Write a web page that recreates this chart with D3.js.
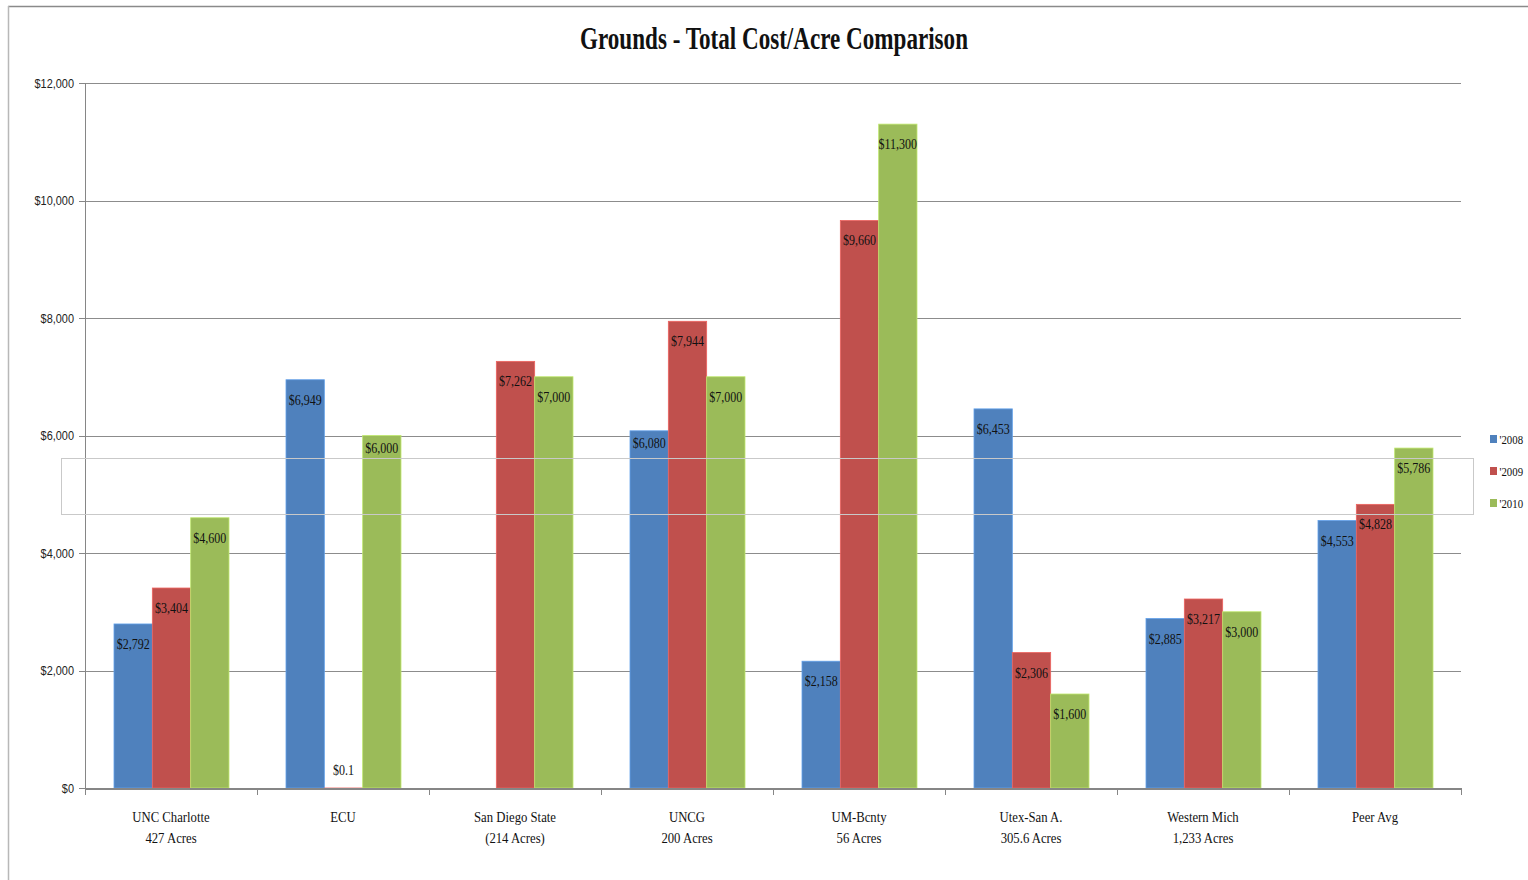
<!DOCTYPE html>
<meta charset="utf-8">
<style>
  html, body { margin: 0; padding: 0; background: #fff; overflow: hidden; }
  .serif { font-family: "Liberation Serif", "DejaVu Serif", serif; fill: #111; }
  .axis text { font-family: "Liberation Sans", Arial, sans-serif; font-size: 13px; fill: #222; }
  .axis path, .axis line { stroke: #868686; fill: none; shape-rendering: crispEdges; }
  .grid line { stroke: #8c8c8c; shape-rendering: crispEdges; }
</style>
<svg width="1528" height="880"></svg>
<script src="https://d3js.org/d3.v7.min.js"></script>
<script>

var categories = ["UNC Charlotte|427 Acres", "ECU", "San Diego State|(214 Acres)", "UNCG|200 Acres",
                  "UM-Bcnty|56 Acres", "Utex-San A.|305.6 Acres", "Western Mich|1,233 Acres", "Peer Avg"];
var seriesNames = ["'2008", "'2009", "'2010"];
var v2008 = [2792, 6949, null, 6080, 2158, 6453, 2885, 4553];
var v2009 = [3404, 0.1, 7262, 7944, 9660, 2306, 3217, 4828];
var v2010 = [4600, 6000, 7000, 7000, 11300, 1600, 3000, 5786];
var labels2008 = ["$2,792", "$6,949", "", "$6,080", "$2,158", "$6,453", "$2,885", "$4,553"];
var labels2009 = ["$3,404", "$0.1", "$7,262", "$7,944", "$9,660", "$2,306", "$3,217", "$4,828"];
var labels2010 = ["$4,600", "$6,000", "$7,000", "$7,000", "$11,300", "$1,600", "$3,000", "$5,786"];
var yTicks = [0, 2000, 4000, 6000, 8000, 10000, 12000];
var colors = ["#4F81BD", "#C0504D", "#9BBB59"];

var svg = d3.select("svg");

// squeeze text horizontally to mimic condensed fonts
function squeeze(sel, k) {
  sel.each(function() {
    var w = this.getComputedTextLength();
    if (w > 0) d3.select(this).attr("textLength", w * k).attr("lengthAdjust", "spacingAndGlyphs");
  });
}

// outer frame
svg.append("line").attr("x1", 8).attr("x2", 1528).attr("y1", 6.5).attr("y2", 6.5)
  .attr("stroke", "#8a8a8a").attr("stroke-width", 1.5);
svg.append("line").attr("x1", 8.5).attr("x2", 8.5).attr("y1", 6).attr("y2", 880)
  .attr("stroke", "#b8b8b8").attr("stroke-width", 1.5);

var plotL = 85, plotR = 1461, plotT = 83, plotB = 788;
var frameY = 458.5;

var x = d3.scaleBand().domain(categories).range([plotL, plotR]).paddingInner(0).paddingOuter(0);
var y = d3.scaleLinear().domain([0, 12000]).range([plotB, plotT]);
var inner = d3.scaleBand().domain([0, 1, 2]).range([29, x.bandwidth() - 28]);

// gridlines
svg.append("g").attr("class", "grid")
  .selectAll("line").data(yTicks.slice(1)).enter().append("line")
  .attr("x1", plotL).attr("x2", plotR)
  .attr("y1", function(d) { return Math.round(y(d)) + 0.5; })
  .attr("y2", function(d) { return Math.round(y(d)) + 0.5; });

// y axis
var yAxis = svg.append("g").attr("class", "axis")
  .attr("transform", "translate(" + plotL + ",0)")
  .call(d3.axisLeft(y).tickValues(yTicks).tickSize(6).tickPadding(5)
    .tickFormat(function(d) { return "$" + d3.format(",")(d); }));
squeeze(yAxis.selectAll("text"), 0.84);

// bars
var all = [v2008, v2009, v2010];
var labs = [labels2008, labels2009, labels2010];
var rows = [];
categories.forEach(function(c, i) {
  all.forEach(function(s, j) {
    if (s[i] !== null) rows.push({ cat: c, s: j, v: s[i], label: labs[j][i] });
  });
});

svg.append("g").selectAll("rect").data(rows).enter().append("rect")
  .attr("x", function(d) { return x(d.cat) + inner(d.s); })
  .attr("width", inner.bandwidth())
  .attr("y", function(d) { return y(d.v); })
  .attr("height", function(d) { return plotB - y(d.v); })
  .attr("fill", function(d) { return colors[d.s]; })
  .attr("stroke", function(d) { return d3.color(colors[d.s]).brighter(0.6); })
  .attr("stroke-width", 0.8);

// x axis
var xAxis = svg.append("g").attr("class", "axis");
xAxis.append("line").attr("x1", plotL).attr("x2", plotR)
  .attr("y1", plotB + 0.5).attr("y2", plotB + 0.5).attr("stroke-width", 2);
xAxis.selectAll(".tk").data(d3.range(categories.length + 1)).enter().append("line")
  .attr("class", "tk")
  .attr("x1", function(i) { return plotL + i * x.bandwidth(); })
  .attr("x2", function(i) { return plotL + i * x.bandwidth(); })
  .attr("y1", plotB).attr("y2", plotB + 7);

var catText = svg.append("g").selectAll("text").data(categories).enter().append("text")
  .attr("class", "serif")
  .attr("text-anchor", "middle")
  .attr("font-size", "15.5px")
  .attr("x", function(d) { return x(d) + x.bandwidth() / 2; })
  .attr("y", 822);
catText.each(function(d) {
  var t = d3.select(this);
  var cx = x(d) + x.bandwidth() / 2;
  d.split("|").forEach(function(line, k) {
    t.append("tspan").attr("x", cx).attr("dy", k === 0 ? 0 : 21).text(line);
  });
});
catText.selectAll("tspan").each(function() { squeeze(d3.select(this), 0.82); });

// data labels (inside end; nudged up if they would sit on the stray frame line)
var dl = svg.append("g").selectAll("text").data(rows).enter().append("text")
  .attr("class", "serif")
  .attr("text-anchor", "middle")
  .attr("font-size", "15px")
  .attr("x", function(d) { return x(d.cat) + inner(d.s) + inner.bandwidth() / 2; })
  .attr("y", function(d) {
    if (plotB - y(d.v) < 30) return plotB - 13;
    var c = y(d.v) + 20;
    if (c < frameY && c > frameY - 10) c -= 8;
    return c + 5;
  })
  .text(function(d) { return d.label; });
squeeze(dl, 0.8);

// stray legend frame (drawn over bars)
svg.append("rect").attr("x", 61.5).attr("y", frameY).attr("width", 1412).attr("height", 56)
  .attr("fill", "none").attr("stroke", "#c9c9c9").attr("stroke-width", 1);

// legend
var lg = svg.append("g").selectAll("g").data(seriesNames).enter().append("g")
  .attr("transform", function(d, i) { return "translate(1490," + (435 + i * 32) + ")"; });
lg.append("rect").attr("width", 7).attr("height", 8).attr("fill", function(d, i) { return colors[i]; });
var lt = lg.append("text").attr("class", "serif").attr("x", 9.5).attr("y", 9)
  .attr("font-size", "13.5px").text(function(d) { return d; });
squeeze(lt, 0.8);

// title
var title = svg.append("text").attr("class", "serif")
  .attr("x", 774).attr("y", 49).attr("text-anchor", "middle")
  .attr("font-size", "31px").attr("font-weight", "bold")
  .text("Grounds - Total Cost/Acre Comparison");
title.attr("textLength", 388).attr("lengthAdjust", "spacingAndGlyphs");

</script>
